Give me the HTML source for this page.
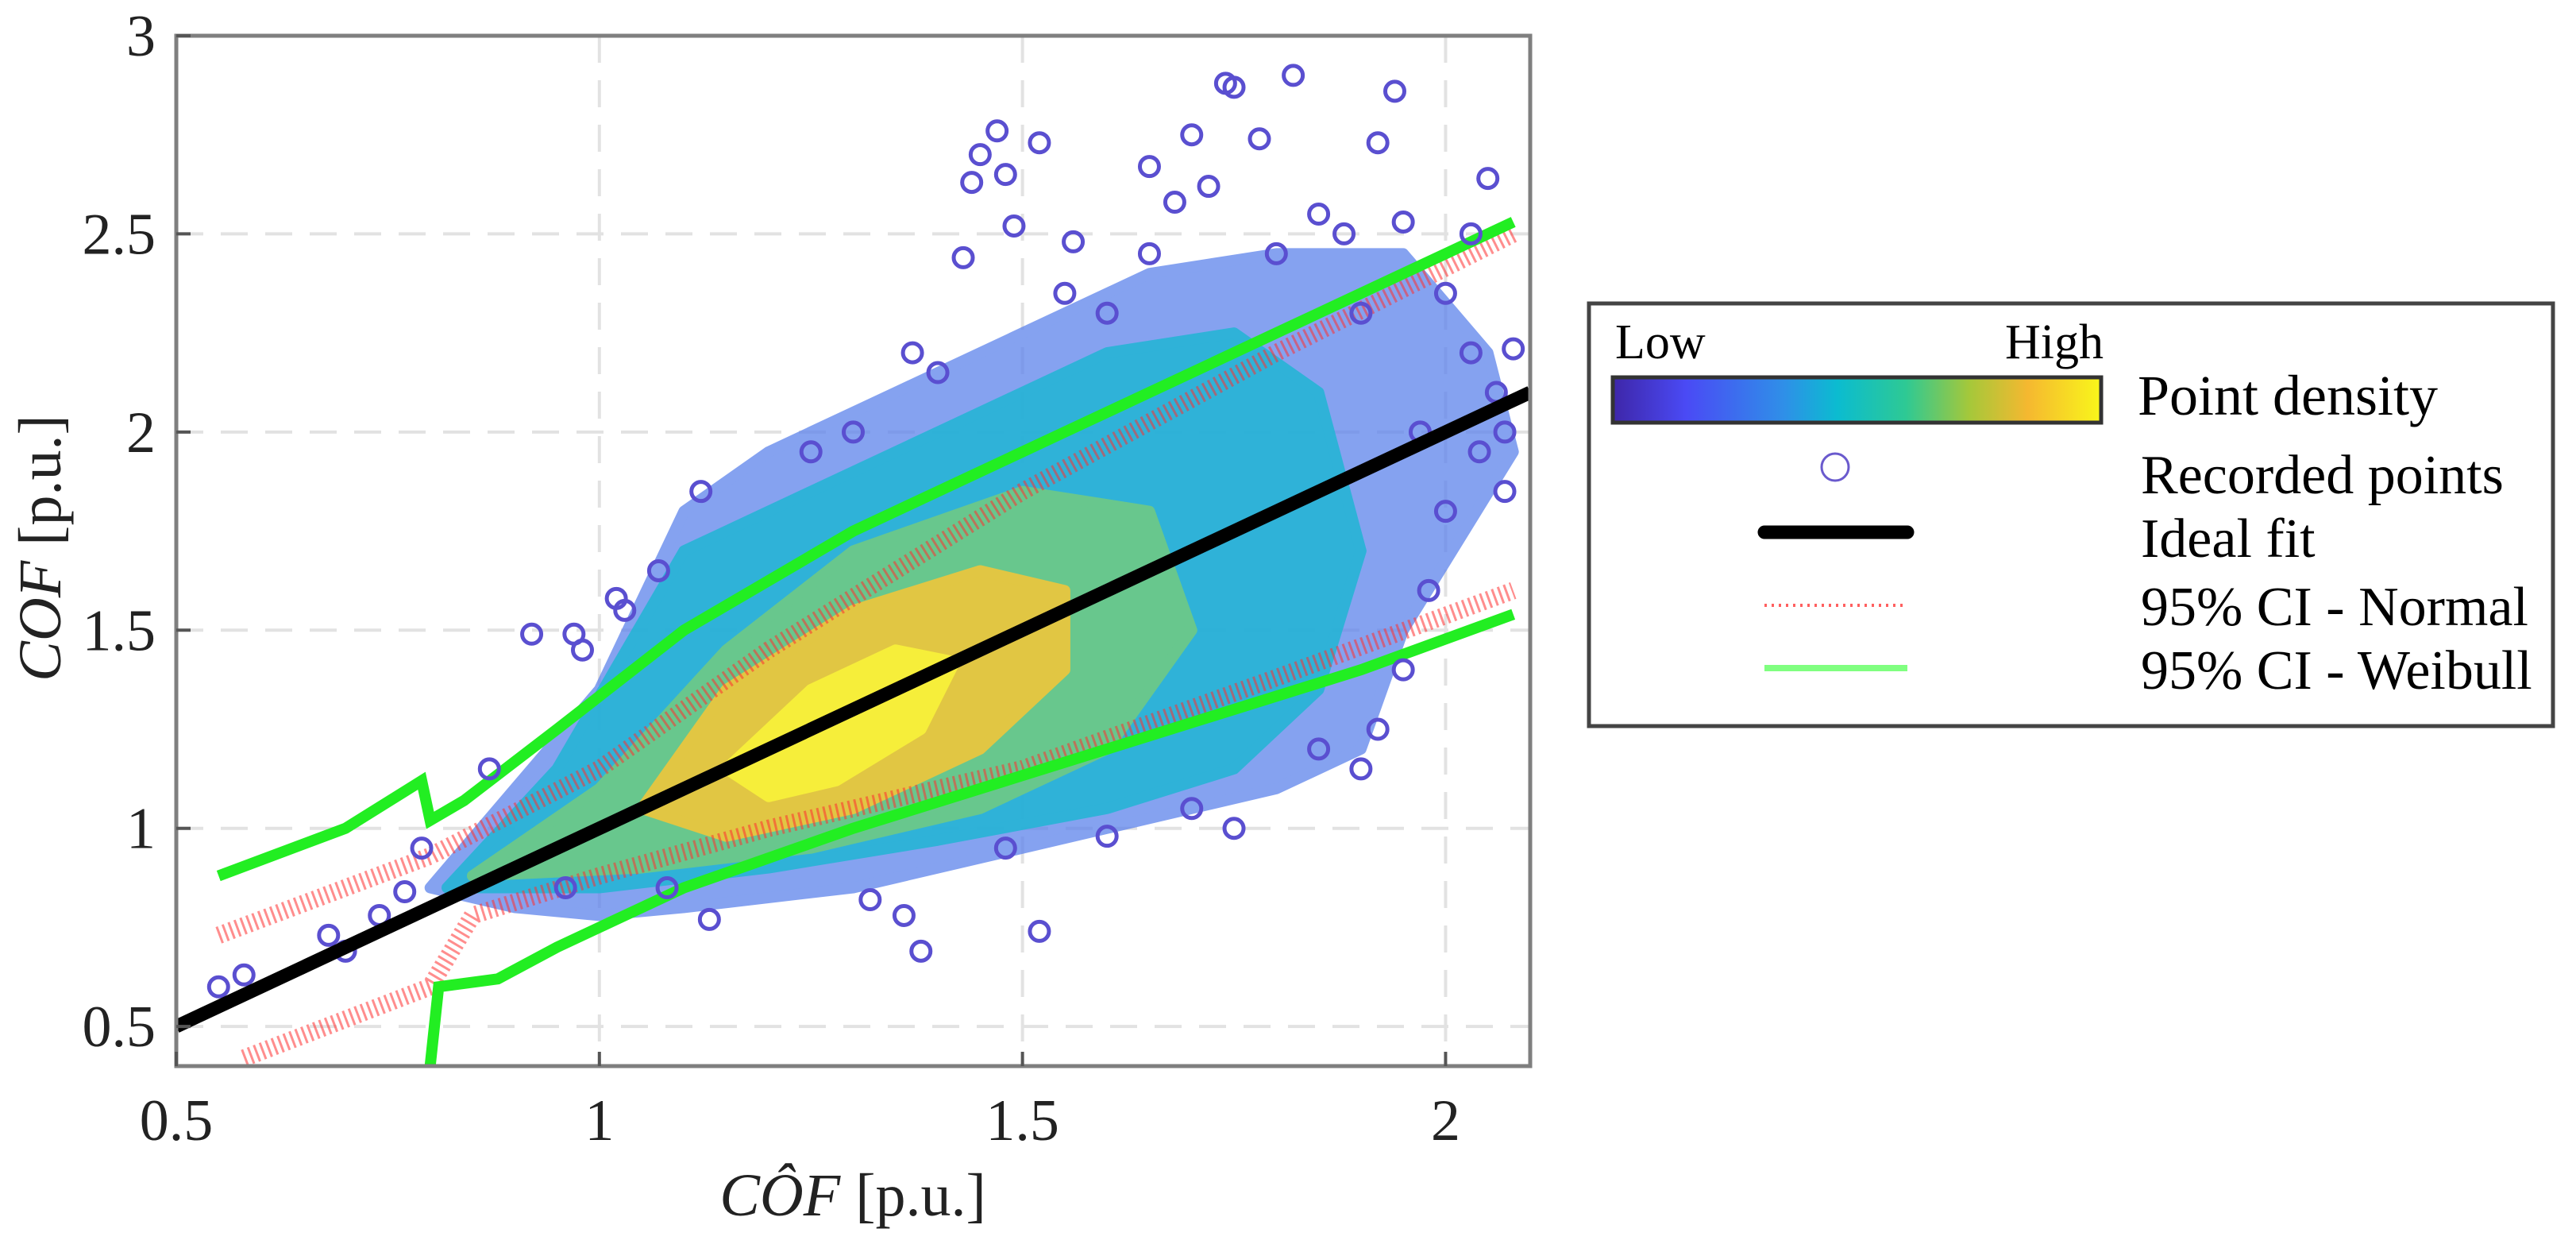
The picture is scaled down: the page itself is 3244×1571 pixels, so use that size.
<!DOCTYPE html>
<html><head><meta charset="utf-8"><style>
html,body{margin:0;padding:0;background:#fff;}
svg{display:block;font-family:"Liberation Serif",serif;}
</style></head><body>
<svg id="chart" width="3244" height="1571" viewBox="0 0 3244 1571" xmlns="http://www.w3.org/2000/svg">
<defs>
<linearGradient id="parula" x1="0" y1="0" x2="1" y2="0">
<stop offset="0" stop-color="#3e26a8"/><stop offset="0.15" stop-color="#4a4af5"/><stop offset="0.35" stop-color="#2f8fe8"/><stop offset="0.46" stop-color="#0bbcd0"/><stop offset="0.6" stop-color="#2ec994"/><stop offset="0.73" stop-color="#a5c83a"/><stop offset="0.85" stop-color="#f5b830"/><stop offset="1" stop-color="#f9f71a"/>
</linearGradient>
<clipPath id="plotclip"><rect x="222" y="45" width="1705" height="1297"/></clipPath>
</defs>
<g id="grid"></g>
<g id="marks" clip-path="url(#plotclip)"></g>
<rect x="222" y="45" width="1705" height="1297" fill="none" stroke="#7f7f7f" stroke-width="5"/>
<g id="axes"></g>
<text x="1074" y="1530" font-size="76" text-anchor="middle" fill="#222"><tspan font-style="italic">CÔF</tspan> [p.u.]</text>
<text transform="translate(76,690) rotate(-90)" font-size="76" text-anchor="middle" fill="#222"><tspan font-style="italic">COF</tspan> [p.u.]</text>
<g>
<rect x="2001" y="382" width="1214" height="532" fill="#fff" stroke="#444" stroke-width="5"/>
<text x="2034" y="451" font-size="62">Low</text>
<text x="2649" y="451" font-size="62" text-anchor="end">High</text>
<rect x="2031" y="475" width="615" height="57" fill="url(#parula)" stroke="#333" stroke-width="5"/>
<text x="2692" y="522" font-size="72">Point density</text>
<circle cx="2311" cy="588" r="17" fill="none" stroke="#6a5acd" stroke-width="3"/>
<text x="2696" y="621" font-size="70">Recorded points</text>
<line x1="2222" y1="670" x2="2402" y2="670" stroke="#000" stroke-width="17" stroke-linecap="round"/>
<text x="2696" y="701" font-size="70">Ideal fit</text>
<line x1="2222" y1="762" x2="2400" y2="762" stroke="#ff6060" stroke-width="4" stroke-dasharray="3 6"/>
<text x="2696" y="787" font-size="70">95% CI - Normal</text>
<line x1="2222" y1="841" x2="2402" y2="841" stroke="#80ff80" stroke-width="8"/>
<text x="2696" y="867" font-size="70">95% CI - Weibull</text>
</g>
</svg>
<script>
const xTicks=[0.5,1,1.5,2];
const xTickLabels=["0.5","1","1.5","2"];
const yTicks=[0.5,1,1.5,2,2.5,3];
const yTickLabels=["0.5","1","1.5","2","2.5","3"];
const idealX=[0.5,2.1];
const weibullUpperX=[0.55,0.7,0.79,0.8,0.84,0.95,1.1,1.3,1.55,1.8,2.08];
const weibullUpperY=[0.88,1.0,1.12,1.02,1.07,1.25,1.5,1.75,2.0,2.25,2.53];
const weibullLowerX=[0.8,0.81,0.88,0.95,1.1,1.3,1.6,1.9,2.08];
const weibullLowerY=[0.4,0.6,0.62,0.7,0.85,1.0,1.2,1.4,1.54];
const normalUpperX=[0.55,0.8,1.0,1.2,1.5,1.8,2.08];
const normalUpperY=[0.73,0.93,1.15,1.45,1.85,2.2,2.5];
const normalLowerX=[0.58,0.8,0.85,1.0,1.2,1.5,1.8,2.08];
const normalLowerY=[0.42,0.6,0.78,0.88,1.0,1.15,1.38,1.6];
const blueRegion=[[0.8,0.85],[0.9,1.1],[1.0,1.35],[1.1,1.8],[1.2,1.95],[1.35,2.1],[1.5,2.25],[1.65,2.4],[1.8,2.45],[1.95,2.45],[2.05,2.2],[2.08,1.95],[1.95,1.5],[1.9,1.2],[1.8,1.1],[1.6,1.0],[1.5,0.95],[1.4,0.9],[1.3,0.85],[1.1,0.8],[1.0,0.78],[0.9,0.8]];
const cyanRegion=[[0.82,0.85],[0.95,1.15],[1.1,1.7],[1.2,1.8],[1.4,2.0],[1.6,2.2],[1.75,2.25],[1.85,2.1],[1.9,1.7],[1.85,1.35],[1.75,1.15],[1.6,1.05],[1.4,0.97],[1.2,0.9],[1.0,0.85]];
const greenRegion=[[0.85,0.88],[1.0,1.1],[1.15,1.45],[1.3,1.7],[1.5,1.85],[1.65,1.8],[1.7,1.5],[1.6,1.2],[1.45,1.05],[1.25,0.95],[1.05,0.9]];
const orangeRegion=[[1.05,1.05],[1.15,1.35],[1.3,1.55],[1.45,1.65],[1.55,1.6],[1.55,1.4],[1.45,1.2],[1.3,1.05],[1.15,0.98]];
const yellowRegion=[[1.15,1.15],[1.25,1.35],[1.35,1.45],[1.42,1.42],[1.38,1.25],[1.28,1.12],[1.2,1.08]];
const outlierX=[0.55,0.58,0.68,0.7,0.74,0.77,0.79,0.87,0.92,0.97,0.98,1.02,1.03,1.07,1.12,1.37,1.43,1.44,1.45,1.47,1.48,1.49,1.52,1.56,1.6,1.65,1.68,1.7,1.72,1.74,1.75,1.78,1.82,1.85,1.88,1.92,1.94,1.95,2.0,2.03,2.05,2.03,2.08,2.06,2.07,2.04,1.92,1.9,1.85,1.75,1.7,1.52,1.48,1.38,1.36,1.32,1.13,1.08,0.96,1.95,1.98,2.0,1.97,1.6,1.3,1.25,1.4,1.55,1.8,1.9,1.65,2.07];
const outlierY=[0.6,0.63,0.73,0.69,0.78,0.84,0.95,1.15,1.49,1.49,1.45,1.58,1.55,1.65,1.85,2.2,2.44,2.63,2.7,2.76,2.65,2.52,2.73,2.48,2.3,2.67,2.58,2.75,2.62,2.88,2.87,2.74,2.9,2.55,2.5,2.73,2.86,2.53,2.35,2.5,2.64,2.2,2.21,2.1,2.0,1.95,1.25,1.15,1.2,1.0,1.05,0.74,0.95,0.69,0.78,0.82,0.77,0.85,0.85,1.4,1.6,1.8,2.0,0.98,2.0,1.95,2.15,2.35,2.45,2.3,2.45,1.85];

const NS="http://www.w3.org/2000/svg";
const X0=222,X1=1927,XMIN=0.5,XMAX=2.1;
const Y0=1342,Y1=45,YMIN=0.4,YMAX=3;
function sx(v){return X0+(v-XMIN)/(XMAX-XMIN)*(X1-X0);}
function sy(v){return Y0-(v-YMIN)/(YMAX-YMIN)*(Y0-Y1);}
function mk(tag,attrs,parent){const e=document.createElementNS(NS,tag);for(const k in attrs)e.setAttribute(k,attrs[k]);parent.appendChild(e);return e;}
const grid=document.getElementById('grid'),marks=document.getElementById('marks'),axes=document.getElementById('axes');
xTicks.forEach((t,i)=>{
  if(t>XMIN){const g=mk('line',{x1:sx(t),x2:sx(t),y1:Y1,y2:Y0,stroke:'#e2e2e2','stroke-width':4,'stroke-dasharray':'34 22'},grid);
  
  }
  const tk=mk('line',{x1:sx(t),x2:sx(t),y1:Y0,y2:Y0-18,stroke:'#555','stroke-width':4},axes);
  
  
  const lb=mk('text',{x:sx(t),y:1435,'font-size':74,'text-anchor':'middle',fill:'#222'},axes);
  
  
  lb.textContent=xTickLabels[i];
});
yTicks.forEach((t,i)=>{
  if(t<YMAX){const g=mk('line',{x1:X0,x2:X1,y1:sy(t),y2:sy(t),stroke:'#e2e2e2','stroke-width':4,'stroke-dasharray':'34 22'},grid);
  
  }
  const tk=mk('line',{x1:X0,x2:X0+18,y1:sy(t),y2:sy(t),stroke:'#555','stroke-width':4},axes);
  
  
  const lb=mk('text',{x:196,y:sy(t)+25,'font-size':74,'text-anchor':'end',fill:'#222'},axes);
  
  
  lb.textContent=yTickLabels[i];
});
function poly(pts,fill,name,op){
  const p=mk('polygon',{points:pts.map(q=>sx(q[0])+','+sy(q[1])).join(' '),fill:fill,opacity:op,'stroke':fill,'stroke-width':14,'stroke-linejoin':'round'},marks);
  
  
}
poly(blueRegion,'#5d83ec','density-region-low',0.75);
poly(cyanRegion,'#26b4d6','density-region-mid',0.9);
poly(greenRegion,'#6cc98a','density-region-midhigh',0.95);
poly(orangeRegion,'#e8c640','density-region-high',0.95);
poly(yellowRegion,'#f6ee3a','density-region-peak',1);
function line(xs,ys,attrs,name){
  const p=mk('polyline',Object.assign({points:xs.map((v,i)=>sx(v)+','+sy(ys[i])).join(' '),fill:'none'},attrs),marks);
  
  
}
line(normalUpperX,normalUpperY,{stroke:'#ff3030','stroke-width':22,'stroke-dasharray':'3 5',opacity:0.55},'normal-ci-upper');
line(normalLowerX,normalLowerY,{stroke:'#ff3030','stroke-width':22,'stroke-dasharray':'3 5',opacity:0.55},'normal-ci-lower');
line(weibullUpperX,weibullUpperY,{stroke:'#22ee22','stroke-width':14},'weibull-ci-upper');
line(weibullLowerX,weibullLowerY,{stroke:'#22ee22','stroke-width':14},'weibull-ci-lower');
outlierX.forEach((v,i)=>{
  const c=mk('circle',{cx:sx(v),cy:sy(outlierY[i]),r:12,fill:'none',stroke:'#5a4fd0','stroke-width':5},marks);
  
  
});
line(idealX,idealX,{stroke:'#000','stroke-width':17},'ideal-fit-line');
</script>
</body></html>
